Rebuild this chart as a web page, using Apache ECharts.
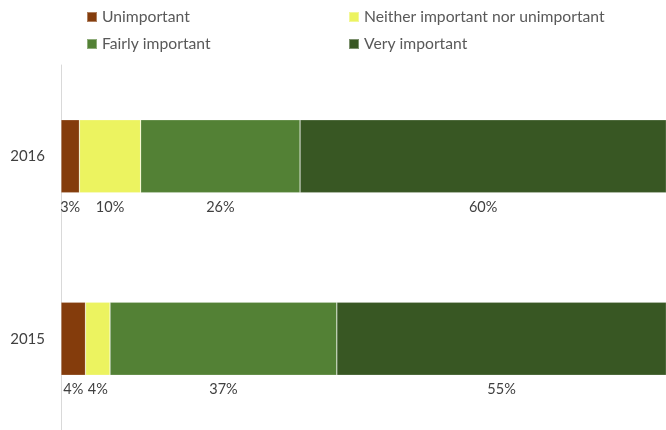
<!DOCTYPE html>
<html>
<head>
<meta charset="utf-8">
<script src="https://cdn.jsdelivr.net/npm/echarts@6/dist/echarts.min.js"></script>
<style>
  html, body { margin: 0; padding: 0; background: #fff; }
  #chart { width: 666px; height: 430px; }
</style>
</head>
<body>
<div id="chart"></div>
<script>
// Survey years (bottom to top on the category axis)
const years = ['2015', '2016'];

// Share of respondents per answer, in percent, ordered as years
const unimportant = [4, 3];
const neither = [4, 10];
const fairlyImportant = [37, 26];
const veryImportant = [55, 60];

const seriesNames = ['Unimportant', 'Neither important nor unimportant', 'Fairly important', 'Very important'];
const seriesValues = [unimportant, neither, fairlyImportant, veryImportant];
const seriesColors = ['#843C0C', '#ECF360', '#538135', '#385723'];

const FONT = 'Lato, "Noto Sans", sans-serif';

const chart = echarts.init(document.getElementById('chart'), null, { renderer: 'canvas' });

const legendPos = [
  { left: 86, top: 9 },
  { left: 348, top: 9 },
  { left: 86, top: 36 },
  { left: 348, top: 36 }
];

const legends = seriesNames.map((name, i) => ({
  data: [name],
  left: legendPos[i].left,
  top: legendPos[i].top,
  padding: 0,
  itemWidth: 10,
  itemHeight: 10,
  itemGap: 5,
  icon: 'rect',
  selectedMode: false,
  textStyle: { color: '#595959', fontSize: 15.7, fontFamily: FONT }
}));

chart.setOption({
  animation: false,
  legend: legends,
  grid: { left: 61, right: 0, top: 65, bottom: 0, containLabel: false },
  xAxis: {
    type: 'value',
    min: 0,
    max: 98.7,
    show: false
  },
  yAxis: {
    type: 'category',
    data: years,
    axisLine: { show: true, lineStyle: { color: '#D9D9D9', width: 1 } },
    axisTick: { show: false },
    axisLabel: { color: '#404040', fontSize: 15, fontFamily: FONT, margin: 16 }
  },
  series: seriesNames.map((name, i) => ({
    name: name,
    type: 'bar',
    stack: 'total',
    barWidth: '40%',
    data: seriesValues[i],
    itemStyle: {
      color: seriesColors[i],
      borderColor: 'rgba(255,255,255,0.35)',
      borderWidth: 0.6
    },
    label: {
      show: true,
      position: 'bottom',
      distance: 7,
      formatter: p => p.value + '%',
      color: '#404040',
      fontSize: 14.5,
      fontFamily: FONT
    }
  }))
});
</script>
</body>
</html>
